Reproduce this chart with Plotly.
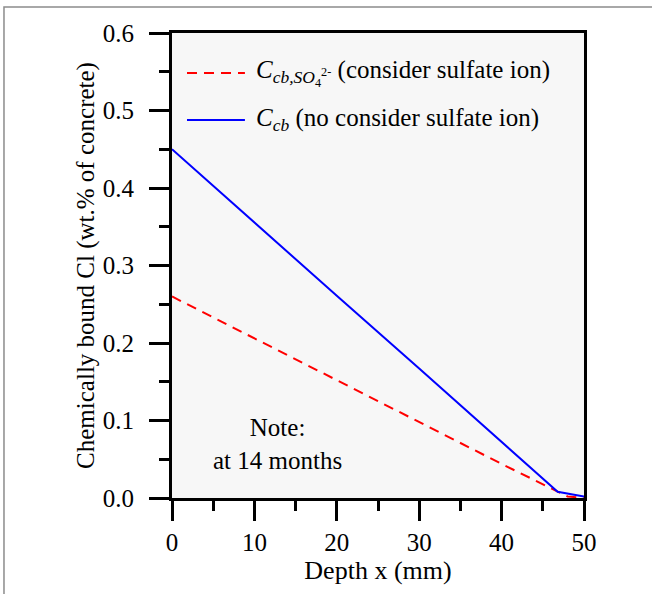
import plotly.graph_objects as go

# Data
depth_sulfate = [0, 10, 20, 30, 40, 48, 50]
ccb_sulfate = [0.26, 0.206, 0.152, 0.098, 0.044, 0.002, 0.0]
depth_no_sulfate = [0, 10, 20, 30, 40, 46.8, 50]
ccb_no_sulfate = [0.45, 0.355, 0.261, 0.167, 0.072, 0.008, 0.002]

x_ticks = [0, 10, 20, 30, 40, 50]
y_ticks = [0.0, 0.1, 0.2, 0.3, 0.4, 0.5, 0.6]

FONT = "Liberation Serif, Times New Roman, serif"

fig = go.Figure()
fig.add_trace(go.Scatter(x=depth_sulfate, y=ccb_sulfate, mode="lines",
                         line=dict(color="#ff0000", width=2, dash="10px,7px"),
                         showlegend=False))
fig.add_trace(go.Scatter(x=depth_no_sulfate, y=ccb_no_sulfate, mode="lines",
                         line=dict(color="#0000ff", width=2),
                         showlegend=False))

# Manual legend
fig.add_shape(type="line", xref="paper", yref="paper", x0=0.0364, x1=0.177, y0=0.914, y1=0.914,
              line=dict(color="#ff0000", width=2, dash="10px,7px"))
fig.add_shape(type="line", xref="paper", yref="paper", x0=0.0364, x1=0.177, y0=0.813, y1=0.813,
              line=dict(color="#0000ff", width=2))
fig.add_annotation(xref="paper", yref="paper", x=0.2, y=0.914, xanchor="left", yanchor="middle",
                   text="<i>C</i><sub><i>cb,SO</i><sub>4</sub><sup>2-</sup></sub> (consider sulfate ion)",
                   showarrow=False, font=dict(family=FONT, size=25, color="black"))
fig.add_annotation(xref="paper", yref="paper", x=0.2, y=0.813, xanchor="left", yanchor="middle",
                   text="<i>C</i><sub><i>cb</i></sub> (no consider sulfate ion)",
                   showarrow=False, font=dict(family=FONT, size=25, color="black"))

# Note
fig.add_annotation(xref="paper", yref="paper", x=0.257, y=0.117, xanchor="center", yanchor="middle",
                   text="Note:<br>at 14 months", align="center",
                   showarrow=False, font=dict(family=FONT, size=25, color="black"))

# Outer border
fig.add_shape(type="rect", xref="paper", yref="paper", x0=-0.4078, x1=1.3, y0=-0.3, y1=1.0559,
              line=dict(color="#8c8c8c", width=1.5), fillcolor="rgba(0,0,0,0)", layer="below")

axis_common = dict(showline=True, linecolor="black", linewidth=3, mirror=True,
                   ticks="outside", ticklen=20, tickwidth=3, tickcolor="black",
                   showgrid=False, zeroline=False,
                   tickfont=dict(family=FONT, size=25, color="black"))

fig.update_xaxes(range=[0, 50], tickvals=x_ticks, ticktext=[str(v) for v in x_ticks],
                 minor=dict(ticks="outside", ticklen=10, tickwidth=3, tickcolor="black", dtick=5, tick0=0),
                 title=dict(text="Depth x (mm)", font=dict(family=FONT, size=26, color="black"), standoff=6),
                 **axis_common)
fig.update_yaxes(range=[0, 0.6], tickvals=y_ticks, ticktext=[f"{v:.1f}" for v in y_ticks],
                 ticklabelstandoff=10,
                 minor=dict(ticks="outside", ticklen=10, tickwidth=3, tickcolor="black", dtick=0.05, tick0=0),
                 title=dict(text="Chemically bound Cl (wt.% of concrete)",
                            font=dict(family=FONT, size=25, color="black"), standoff=2),
                 **axis_common)

fig.update_layout(width=652, height=594,
                  margin=dict(l=172, r=68, t=33, b=96, autoexpand=False),
                  plot_bgcolor="#f7f7f7", paper_bgcolor="white",
                  font=dict(family=FONT, color="black"))

fig.write_html("out.html")
